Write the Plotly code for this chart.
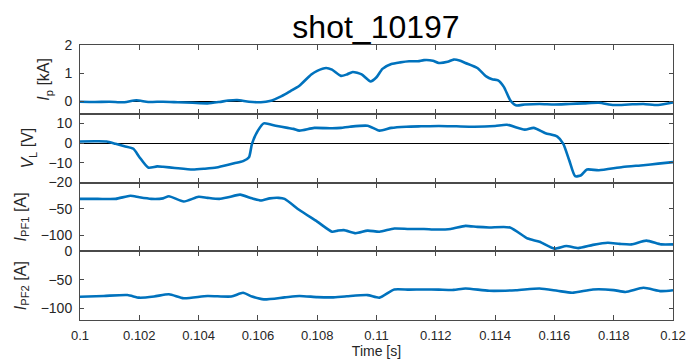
import plotly.graph_objects as go
from plotly.subplots import make_subplots

title_text = "shot_10197"
x_label = "Time [s]"
x_ticks = [0.1, 0.102, 0.104, 0.106, 0.108, 0.11, 0.112, 0.114, 0.116, 0.118, 0.12]
x_tick_labels = ["0.1", "0.102", "0.104", "0.106", "0.108", "0.11", "0.112", "0.114", "0.116", "0.118", "0.12"]

t_ip = [0.1000, 0.1005, 0.1010, 0.1015, 0.1019, 0.1023, 0.1028, 0.1033, 0.1038, 0.1043, 0.1047,
        0.1050, 0.1053, 0.1057, 0.1061, 0.1064, 0.1068, 0.1071, 0.1074, 0.1078, 0.1080, 0.1083,
        0.1085, 0.1088, 0.1090, 0.1092, 0.1095, 0.1098, 0.1100, 0.1102, 0.1105, 0.1108, 0.1111,
        0.1114, 0.1116, 0.1119, 0.1121, 0.1124, 0.1126, 0.1128, 0.1130, 0.1134, 0.1137, 0.1139,
        0.1141, 0.1143, 0.1145, 0.1147, 0.1150, 0.1155, 0.1160, 0.1165, 0.1170, 0.1175, 0.1180,
        0.1185, 0.1190, 0.1195, 0.1200]
ip = [-0.02, -0.03, -0.02, -0.04, 0.03, -0.03, -0.02, -0.04, -0.06, -0.08, -0.03,
      0.02, 0.04, -0.02, -0.04, 0.0, 0.18, 0.36, 0.55, 0.95, 1.08, 1.18,
      1.12, 0.90, 0.95, 1.04, 0.95, 0.70, 0.85, 1.15, 1.32, 1.38, 1.42,
      1.42, 1.46, 1.44, 1.36, 1.40, 1.48, 1.45, 1.36, 1.18, 0.88, 0.78,
      0.74, 0.50, 0.05, -0.15, -0.12, -0.10, -0.12, -0.10, -0.08, -0.06, -0.14,
      -0.12, -0.10, -0.14, -0.05]

t_vl = [0.1000, 0.1005, 0.1009, 0.1012, 0.1015, 0.1018, 0.1020, 0.1023, 0.1026, 0.1028, 0.1032,
        0.1038, 0.1042, 0.1046, 0.1050, 0.1052, 0.1055, 0.1057, 0.1058, 0.1060, 0.1062, 0.1066,
        0.1070, 0.1072, 0.1074, 0.1079, 0.1085, 0.1088, 0.1091, 0.1097, 0.1101, 0.1105, 0.1110,
        0.1115, 0.1121, 0.1127, 0.1133, 0.1140, 0.1144, 0.1150, 0.1153, 0.1157, 0.1161, 0.1163,
        0.1165, 0.1167, 0.1169, 0.1171, 0.1175, 0.1183, 0.1190, 0.1195, 0.1200]
vl = [0.9, 1.0, 0.9, -0.3, -1.5, -2.8, -7.0, -12.4, -11.8, -12.0, -12.6,
      -13.4, -13.0, -12.4, -11.0, -10.2, -9.1, -7.1, -0.3, 6.4, 10.1, 8.9,
      7.8, 7.3, 6.4, 7.8, 7.6, 7.8, 8.4, 8.9, 6.4, 7.8, 8.4,
      8.6, 8.8, 8.6, 8.4, 8.8, 9.4, 6.9, 7.8, 5.1, 3.4, -0.3,
      -8.7, -16.8, -16.3, -13.4, -13.8, -12.1, -11.2, -10.4, -9.6]

t_pf1 = [0.1000, 0.1006, 0.1012, 0.1017, 0.1020, 0.1024, 0.1028, 0.1030, 0.1035, 0.1040, 0.1043,
         0.1047, 0.1050, 0.1054, 0.1058, 0.1061, 0.1064, 0.1067, 0.1069, 0.1074, 0.1080, 0.1085,
         0.1087, 0.1089, 0.1093, 0.1097, 0.1101, 0.1106, 0.1111, 0.1116, 0.1120, 0.1125, 0.1130,
         0.1134, 0.1138, 0.1145, 0.1151, 0.1155, 0.1160, 0.1164, 0.1168, 0.1173, 0.1178, 0.1182,
         0.1186, 0.1191, 0.1196, 0.1200]
ipf1 = [-31, -31, -31, -25, -28, -31, -30, -26, -36, -27, -29,
        -31, -28, -23, -30, -34, -30, -29, -31, -52, -74, -93,
        -91, -90, -96, -91, -93, -87, -88, -88, -89, -88, -82,
        -84, -85, -85, -106, -112, -125, -120, -124, -118, -114, -116,
        -117, -110, -117, -117]

t_pf2 = [0.1000, 0.1008, 0.1016, 0.1020, 0.1025, 0.1030, 0.1035, 0.1043, 0.1051, 0.1055, 0.1058,
         0.1062, 0.1069, 0.1074, 0.1080, 0.1085, 0.1090, 0.1097, 0.1101, 0.1106, 0.1111, 0.1116,
         0.1121, 0.1126, 0.1130, 0.1138, 0.1147, 0.1155, 0.1161, 0.1166, 0.1173, 0.1180, 0.1184,
         0.1190, 0.1196, 0.1200]
ipf2 = [-79.4, -78, -76.5, -81, -79, -75, -82, -78, -79, -72.5, -79,
        -84, -80.5, -78, -80, -80.5, -78.5, -76.5, -81, -66.7, -67, -66.7,
        -67, -67.5, -65, -69, -68, -65, -69, -72.5, -66.7, -67.8, -71,
        -63.8, -69.6, -68]

panels = [
    dict(t=t_ip, y=ip, label="<i>I</i><sub>p</sub> [kA]", rng=[-0.45, 2], ticks=[0, 1, 2]),
    dict(t=t_vl, y=vl, label="<i>V</i><sub>L</sub> [V]", rng=[-20, 15], ticks=[-20, -10, 0, 10]),
    dict(t=t_pf1, y=ipf1, label="<i>I</i><sub>PF1</sub> [A]", rng=[-130, 0], ticks=[-100, -50]),
    dict(t=t_pf2, y=ipf2, label="<i>I</i><sub>PF2</sub> [A]", rng=[-120, 0], ticks=[-100, -50, 0]),
]

LINE = "#0072BD"
AX = "#4a4a4a"
TXT = "#262626"
FONT = "Liberation Sans, Arial, sans-serif"

fig = make_subplots(rows=4, cols=1, shared_xaxes=False, vertical_spacing=0)

for i, p in enumerate(panels, start=1):
    fig.add_trace(go.Scatter(x=p["t"], y=p["y"], mode="lines",
                             line=dict(color=LINE, width=2.6, shape="spline", smoothing=0.6),
                             showlegend=False, hoverinfo="skip"), row=i, col=1)
    fig.update_yaxes(range=p["rng"], tickvals=p["ticks"], row=i, col=1, automargin=False,
                     title=dict(text=p["label"], font=dict(size=16, color=TXT, family=FONT), standoff=10),
                     showline=True, mirror="allticks", linecolor=AX, linewidth=1,
                     ticks="inside", ticklen=4, tickcolor=AX, ticklabelstandoff=4,
                     showgrid=False, zeroline=(i <= 2), zerolinecolor="#000000", zerolinewidth=1,
                     tickfont=dict(size=14, color=TXT, family=FONT))
    fig.update_xaxes(range=[0.1, 0.12], tickvals=x_ticks, ticktext=x_tick_labels, row=i, col=1,
                     automargin=False,
                     showline=True, mirror="allticks", linecolor=AX, linewidth=1,
                     ticks="inside", ticklen=5, tickcolor=AX, showgrid=False, zeroline=False,
                     showticklabels=(i == 4), ticklabelstandoff=3,
                     tickfont=dict(size=13, color=TXT, family=FONT))

fig.update_xaxes(title=dict(text=x_label, font=dict(size=14, color=TXT, family=FONT), standoff=4), row=4, col=1)

fig.update_layout(
    width=690, height=363,
    margin=dict(l=80, r=17, t=45, b=43),
    paper_bgcolor="white", plot_bgcolor="white",
    title=dict(text=title_text, x=376 / 690, xanchor="center", y=0.925, yanchor="middle",
               font=dict(size=32, color="#000000", family=FONT)),
    font=dict(family=FONT),
)

fig.write_html("out.html", config={"displayModeBar": False},
               post_script="document.body.style.margin='0';document.body.style.padding='0';document.body.style.overflow='hidden';")
